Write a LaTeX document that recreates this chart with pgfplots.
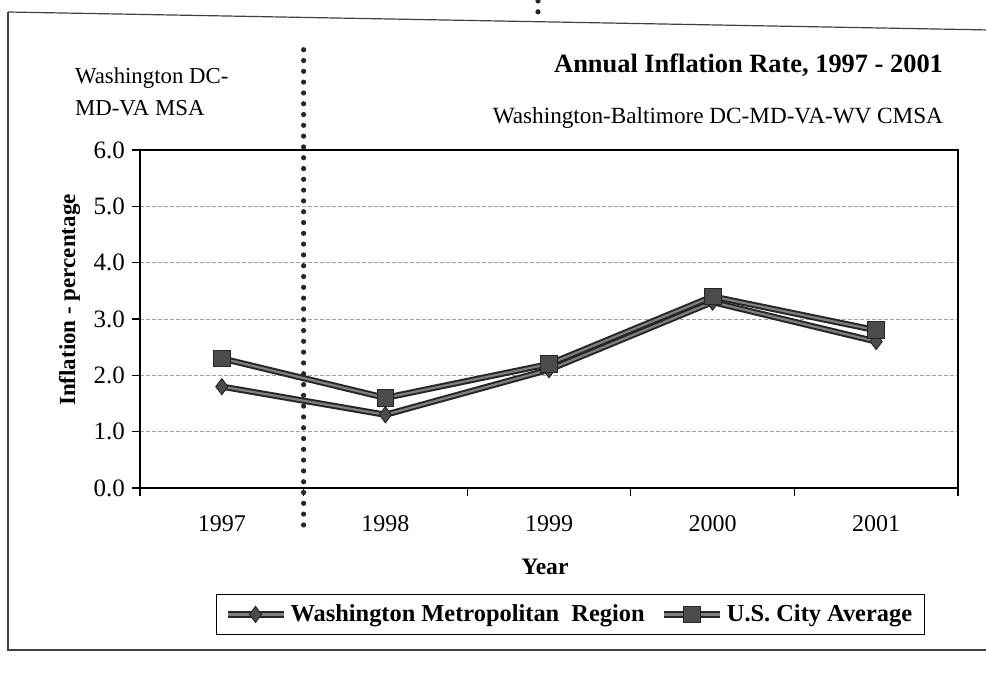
\documentclass[border=0pt]{standalone}
\usepackage{pgfplots}
\pgfplotsset{compat=1.18}
\usepackage{fontspec}
\setmainfont{Liberation Serif}
\begin{document}
\begin{tikzpicture}
\useasboundingbox (0pt,0pt) rectangle (493pt,340.5pt);
% outer chart frame
\draw[black!75, line width=0.6pt] (4pt,334.5pt) -- (495pt,325.5pt);
\draw[black!75, line width=0.6pt] (4pt,334.5pt) -- (4pt,15.5pt) -- (495pt,15.5pt);
% dotted mark at the top
\draw[black!85, line width=2.6pt, line cap=round, dash pattern=on 0pt off 5.4pt] (269pt,340pt) -- (269pt,333pt);
% header texts
\node[anchor=west, font=\fontsize{11.4}{13}\selectfont] at (34pt,301.5pt) {Washington DC-};
\node[anchor=west, font=\fontsize{11.4}{13}\selectfont] at (34pt,286.5pt) {MD-VA MSA};
\node[anchor=east, font=\bfseries\fontsize{13.2}{15}\selectfont] at (475pt,308pt) {Annual Inflation Rate, 1997 - 2001};
\node[anchor=east, font=\fontsize{11.6}{13}\selectfont] at (475pt,281.5pt) {Washington-Baltimore DC-MD-VA-WV CMSA};
\begin{axis}[
  at={(70pt,96.5pt)}, anchor=south west,
  scale only axis, width=409pt, height=169pt,
  xmin=-0.5, xmax=4.5, ymin=0, ymax=6,
  clip=false,
  xtick={0,1,2,3,4},
  xticklabels={1997,1998,1999,2000,2001},
  minor xtick={-0.5,0.5,1.5,2.5,3.5,4.5},
  major x tick style={draw=none},
  ytick={0,1,2,3,4,5,6},
  xtick pos=bottom, ytick pos=left,
  tick align=outside,
  major tick length=4pt, minor tick length=4pt,
  tick style={black, line width=0.6pt},
  axis line style={black, line width=0.8pt},
  ymajorgrids,
  major grid style={gray!75, line width=0.45pt, dash pattern=on 2pt off 1pt},
  /pgf/number format/assume math mode=true,
  yticklabel style={/pgf/number format/fixed, /pgf/number format/fixed zerofill, /pgf/number format/precision=1},
  yticklabel style={/tikz/font=\fontsize{12.5}{14}\selectfont},
  xticklabel style={/tikz/font=\fontsize{12}{14}\selectfont, anchor=north, text height=9pt, text depth=0pt, yshift=-5pt},
  ylabel={Inflation - percentage},
  ylabel style={at={(axis description cs:-0.086,0.556)}, anchor=center, font=\bfseries\fontsize{11.5}{13}\selectfont},
  xlabel={Year},
  xlabel style={at={(axis description cs:0.495,-0.234)}, anchor=center, font=\bfseries\fontsize{11.8}{13}\selectfont},
  legend columns=2,
  legend style={at={(axis description cs:0.526,-0.374)}, anchor=center,
    draw=black, line width=0.6pt, font=\bfseries\fontsize{12.2}{14}\selectfont,
    inner xsep=4pt, inner ysep=3pt,
    /tikz/every even column/.append style={column sep=6pt}},
  legend image code/.code={\draw[mark repeat=2,mark phase=2,#1] plot coordinates {(0pt,0pt) (14pt,0pt) (28pt,0pt)};},
]
\addplot[draw=black!85, double=black!50, double distance=1.1pt, line width=1pt,
  mark=diamond*, mark size=4pt, mark options={draw=black!85, fill=black!70, line width=0.5pt}]
  coordinates {(0,1.8) (1,1.3) (2,2.1) (3,3.3) (4,2.6)};
\addlegendentry{Washington Metropolitan\ \ Region}
\addplot[draw=black!85, double=black!50, double distance=1.1pt, line width=1pt,
  mark=square*, mark size=4.2pt, mark options={draw=black!85, fill=black!70, line width=0.5pt}]
  coordinates {(0,2.3) (1,1.6) (2,2.2) (3,3.4) (4,2.8)};
\addlegendentry{U.S. City Average}
% dotted divider between the two area definitions
\draw[black!85, line width=2.6pt, line cap=round, dash pattern=on 0pt off 5.4pt]
  (axis cs:0.5,7.78) -- (axis cs:0.5,-0.83);
\end{axis}
\end{tikzpicture}
\end{document}
